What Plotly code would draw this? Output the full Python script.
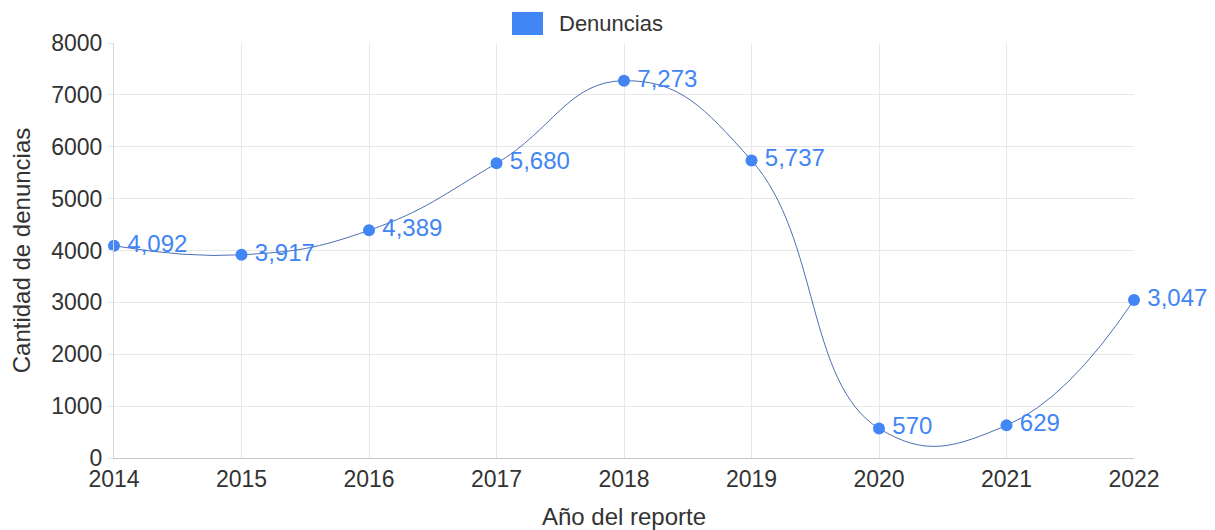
import plotly.graph_objects as go

years = [2014, 2015, 2016, 2017, 2018, 2019, 2020, 2021, 2022]
denuncias = [4092, 3917, 4389, 5680, 7273, 5737, 570, 629, 3047]
labels = [f"{v:,}" for v in denuncias]
series_name = "Denuncias"

FONT = "Liberation Sans, Arial, Helvetica, sans-serif"
BLUE = "#4285f4"

# plot area in window pixels: left 114, right 1134, top 43, bottom 458 (page has 8px body margin)
W, H = 1207, 522
L, R, T, B = 106, 1207 - 1126, 35, 522 - 450

fig = go.Figure()
fig.add_trace(go.Scatter(
    x=years, y=denuncias, mode="lines+markers+text",
    text=["\u2009" + t for t in labels], textposition="middle right",
    textfont=dict(family=FONT, size=24, color=BLUE),
    line=dict(color="#4d6fb3", width=1, shape="spline", smoothing=1.3),
    marker=dict(color=BLUE, size=12),
    cliponaxis=False, showlegend=False, name=series_name,
))

fig.update_layout(
    width=W, height=H,
    margin=dict(l=L, r=R, t=T, b=B, autoexpand=False),
    paper_bgcolor="white", plot_bgcolor="white",
    font=dict(family=FONT, size=22, color="#333"),
    xaxis=dict(range=[2014, 2022], tickvals=years, ticktext=[str(y) for y in years],
               showgrid=True, gridcolor="#e8e8e8", zeroline=False,
               showline=True, linecolor="#c8c8c8", ticks="", ticklen=0,
               tickfont=dict(size=23, color="#333"), automargin=False,
               title=dict(text="Año del reporte", font=dict(size=24, color="#333"), standoff=17)),
    yaxis=dict(range=[0, 8000], dtick=1000, tickformat="d",
               showgrid=True, gridcolor="#e8e8e8", zeroline=False,
               showline=True, linecolor="#d8d8d8", ticks="outside", ticklen=6, tickcolor="#e8e8e8",
               tickfont=dict(size=23, color="#333"), automargin=False,
               title=dict(text="Cantidad de denuncias", font=dict(size=24, color="#333"), standoff=13)),
    shapes=[dict(type="rect", xref="paper", yref="paper",
                 x0=(512 - 114) / 1020, x1=(543 - 114) / 1020,
                 y0=(458 - 35) / 415, y1=(458 - 12) / 415,
                 fillcolor=BLUE, line=dict(width=0))],
    annotations=[dict(text=series_name, xref="paper", yref="paper",
                      x=(557 - 114) / 1020, y=(458 - 23) / 415,
                      xanchor="left", yanchor="middle", showarrow=False,
                      font=dict(family=FONT, size=22, color="#333"))],
)

fig.write_html("out.html")
